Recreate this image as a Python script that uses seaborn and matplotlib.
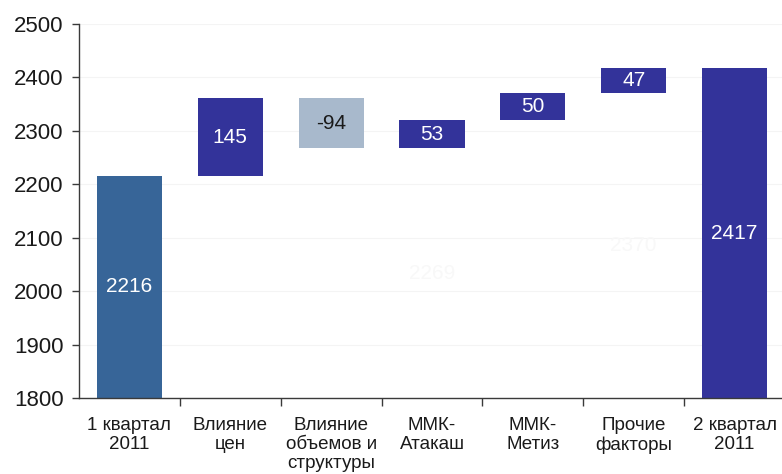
import matplotlib
matplotlib.use("Agg")
import matplotlib.pyplot as plt
import seaborn as sns
import numpy as np
import pandas as pd

# Waterfall: Q1 2011 -> Q2 2011
categories = ["1 квартал\n2011", "Влияние\nцен", "Влияние\nобъемов и\nструктуры",
              "ММК-\nАтакаш", "ММК-\nМетиз", "Прочие\nфакторы", "2 квартал\n2011"]
changes = [2216, 145, -94, 53, 50, 47, 2417]
kinds = ["start", "up", "down", "up", "up", "up", "total"]
# labels left over from the hidden base columns
hidden_labels = {"ММК-\nАтакаш": "2269", "Прочие\nфакторы": "2370"}

palette = {"start": "#376598", "up": "#33339a", "down": "#a8b9cc", "total": "#33339a"}
label_colors = {"start": "white", "up": "white", "down": "#1a1a1a", "total": "white"}

# floating segments: bottom and height of each bar
bottoms, heights = [], []
running = 0
for v, k in zip(changes, kinds):
    if k in ("start", "total"):
        bottoms.append(0)
        heights.append(v)
        running = v
    else:
        lo = running if v >= 0 else running + v
        bottoms.append(lo)
        heights.append(abs(v))
        running += v

df = pd.DataFrame({"cat": categories, "height": heights, "bottom": bottoms, "kind": kinds})

sns.set_theme(style="white")
plt.rcParams["font.family"] = ["Liberation Sans", "DejaVu Sans"]

fig = plt.figure(figsize=(7.82, 4.74), dpi=100)
ax = fig.add_axes([79 / 782, 76 / 474, 706 / 782, 374 / 474])

sns.barplot(data=df, x="cat", y="height", bottom=df["bottom"].to_numpy(),
            width=0.645, color=palette["up"], saturation=1, linewidth=0,
            ax=ax, zorder=2)
for patch, k in zip(ax.patches, kinds):
    patch.set_facecolor(palette[k])

ax.set_ylim(1800, 2500)
ax.set_xlim(-0.5, 6.5)
ax.set_yticks(np.arange(1800, 2501, 100))
ax.yaxis.grid(True, color="#f4f4f4", linewidth=0.8, zorder=0)
ax.set_axisbelow(True)
ax.set_xlabel("")
ax.set_ylabel("")

for s in ("top", "right"):
    ax.spines[s].set_visible(False)
for s in ("left", "bottom"):
    ax.spines[s].set_color("#3a3a3a")
    ax.spines[s].set_linewidth(1.0)

ax.tick_params(axis="y", which="major", left=True, length=5, width=1,
               color="#3a3a3a", labelsize=16, labelcolor="#1a1a1a", pad=6)
ax.set_xticks(range(len(categories)))
ax.set_xticklabels(categories, fontsize=13.5, color="#1a1a1a", linespacing=1.15)
ax.tick_params(axis="x", which="major", bottom=False, pad=8)
ax.set_xticks(np.arange(0.5, len(categories) - 0.5, 1), minor=True)
ax.tick_params(axis="x", which="minor", bottom=True, length=6, width=1, color="#3a3a3a")

# value labels at the middle of each segment
for i, (v, b, h, k) in enumerate(zip(changes, bottoms, heights, kinds)):
    if k in ("start", "total"):
        y = (1800 + h) / 2
    else:
        y = b + h / 2
    ax.text(i, y, f"{v}", ha="center", va="center", fontsize=15,
            color=label_colors[k], zorder=3)

# faint labels of hidden base columns
for i, c in enumerate(categories):
    if c in hidden_labels:
        ax.text(i, (1800 + bottoms[i]) / 2, hidden_labels[c], ha="center", va="center",
                fontsize=15, color="#f8f8f8", zorder=1)

fig.savefig("out.png", dpi=100)
